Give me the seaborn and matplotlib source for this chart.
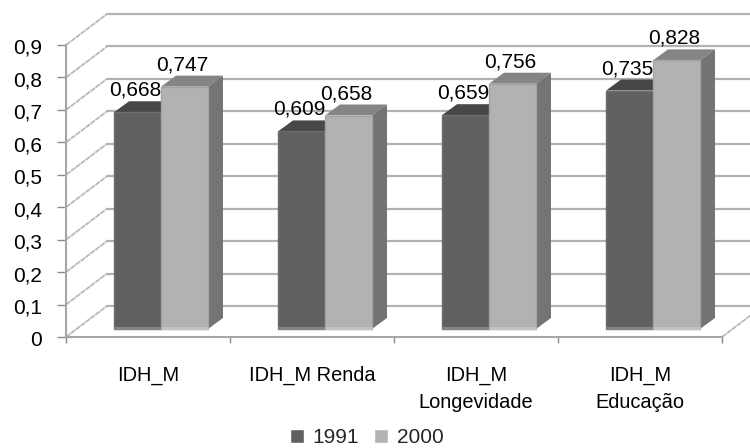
import pandas as pd
import matplotlib.pyplot as plt
import seaborn as sns
from matplotlib.patches import Polygon
from matplotlib.transforms import ScaledTranslation

categorias = ["IDH_M", "IDH_M Renda", "IDH_M\nLongevidade", "IDH_M\nEducação"]
anos = ["1991", "2000"]
valores_1991 = [0.668, 0.609, 0.659, 0.735]
valores_2000 = [0.747, 0.658, 0.756, 0.828]
ticks_y = [0, 0.1, 0.2, 0.3, 0.4, 0.5, 0.6, 0.7, 0.8, 0.9]

# pixel geometry of the fake 3D box
W, H = 750, 448
PX_X = 164
PX_Y = 324.4
GRID = "#b2b2b2"
FONT = 15

df = pd.DataFrame({
    "categoria": categorias * 2,
    "ano": [anos[0]] * 4 + [anos[1]] * 4,
    "valor": valores_1991 + valores_2000,
})

sns.set_style("white")
plt.rcParams["font.family"] = ["Liberation Sans", "DejaVu Sans"]
plt.rcParams["font.size"] = FONT

fig = plt.figure(figsize=(W / 100, H / 100), dpi=100)

# front frame: axis lines, ticks and the walls
ax = fig.add_axes([66 / W, 1 - 337 / H, 656 / W, 292 / H])
ax.set_xlim(-0.5, 3.5)
ax.set_ylim(0, 0.9)
wall_x = 41 / PX_X
wall_y = 31 / PX_Y
for v in ticks_y:
    ax.plot([-0.5, -0.5 + wall_x], [v, v + wall_y], color="#b8b8b8", lw=1.3,
            ls=(0, (3, 0.4)), clip_on=False, zorder=1)
    ax.plot([-0.5 + wall_x, 4.2], [v + wall_y, v + wall_y],
            color=GRID, lw=1.6, clip_on=False, zorder=1)
ax.plot([3.5, 3.5 + wall_x], [0, wall_y], color="#b8b8b8", lw=1.3,
        ls=(0, (3, 0.4)), clip_on=False, zorder=1)

sns.despine(ax=ax)
for s in ["left", "bottom"]:
    ax.spines[s].set_color("#a6a6a6")
    ax.spines[s].set_linewidth(1.5)
ax.set_yticks(ticks_y)
ax.set_yticklabels([f"{v:g}".replace(".", ",") for v in ticks_y], fontsize=FONT, color="black")
ax.tick_params(axis="y", length=6.5, width=1, color="#8a8a8a", pad=11, left=True)
for lab in ax.get_yticklabels():
    lab.set_transform(lab.get_transform() + ScaledTranslation(0, -1.5 / 100, fig.dpi_scale_trans))
ax.set_xticks([-0.5, 0.5, 1.5, 2.5, 3.5])
ax.set_xticklabels([])
ax.set_xticks(range(4), categorias, minor=True, fontsize=14.4, color="black", linespacing=1.5)
ax.tick_params(axis="x", which="major", length=4.5, width=1, color="#8a8a8a", bottom=True)
ax.tick_params(axis="x", which="minor", length=0, pad=21)

# bars sit a little inside the box
ax_bars = fig.add_axes([(66 + 13) / W, 1 - (337 - 8) / H, 656 / W, 292 / H], zorder=3)
ax_bars.patch.set_visible(False)
sns.barplot(data=df, x="categoria", y="valor", hue="ano", hue_order=anos,
            palette=["#606060", "#b2b2b2"], saturation=1, width=0.573, gap=0,
            ax=ax_bars)
ax_bars.set_xlim(-0.5, 3.5)
ax_bars.set_ylim(0, 0.9)
ax_bars.set_axis_off()

dx = 15 / PX_X
dy = 11 / PX_Y
n = len(categorias)
for i, bar in enumerate(ax_bars.patches):
    x0, w, h = bar.get_x(), bar.get_width(), bar.get_height()
    escuro = i < n
    topo = "#474747" if escuro else "#858585"
    lado = "#505050" if escuro else "#747474"
    ax_bars.add_patch(Polygon([(x0, h), (x0 + dx, h + dy), (x0 + w + dx, h + dy), (x0 + w, h)],
                              facecolor=topo, edgecolor="none", zorder=1, clip_on=False))
    ax_bars.add_patch(Polygon([(x0 + w, 0), (x0 + w + dx, dy), (x0 + w + dx, h + dy), (x0 + w, h)],
                              facecolor=lado, edgecolor="none", zorder=1, clip_on=False))
    bar.set_zorder(2)
    bar.set_edgecolor("#6e6e6e" if escuro else "#a3a3a3")
    bar.set_linewidth(1)
    bar.set_clip_on(False)
    # lighter strip at the foot of each bar
    ax_bars.plot([x0, x0 + w], [0.004, 0.004], color="#858585" if escuro else "#c2c2c2",
                 lw=2.2, solid_capstyle="butt", zorder=2.5, clip_on=False)

for cont, vals in zip(ax_bars.containers, [valores_1991, valores_2000]):
    rotulos = ax_bars.bar_label(cont, labels=[f"{v:.3f}".replace(".", ",") for v in vals],
                                padding=9, fontsize=FONT, color="black", zorder=5)
    for t in rotulos:
        t.xyann = (-1.5, t.xyann[1])

sns.move_legend(ax_bars, "center", bbox_to_anchor=(367 / W, 1 - 437.5 / H),
                bbox_transform=fig.transFigure, ncol=2, frameon=False, title=None,
                fontsize=FONT, handlelength=0.67, handleheight=0.67,
                handletextpad=0.43, columnspacing=0.72, borderpad=0, borderaxespad=0)

fig.savefig("out.png", dpi=100)
